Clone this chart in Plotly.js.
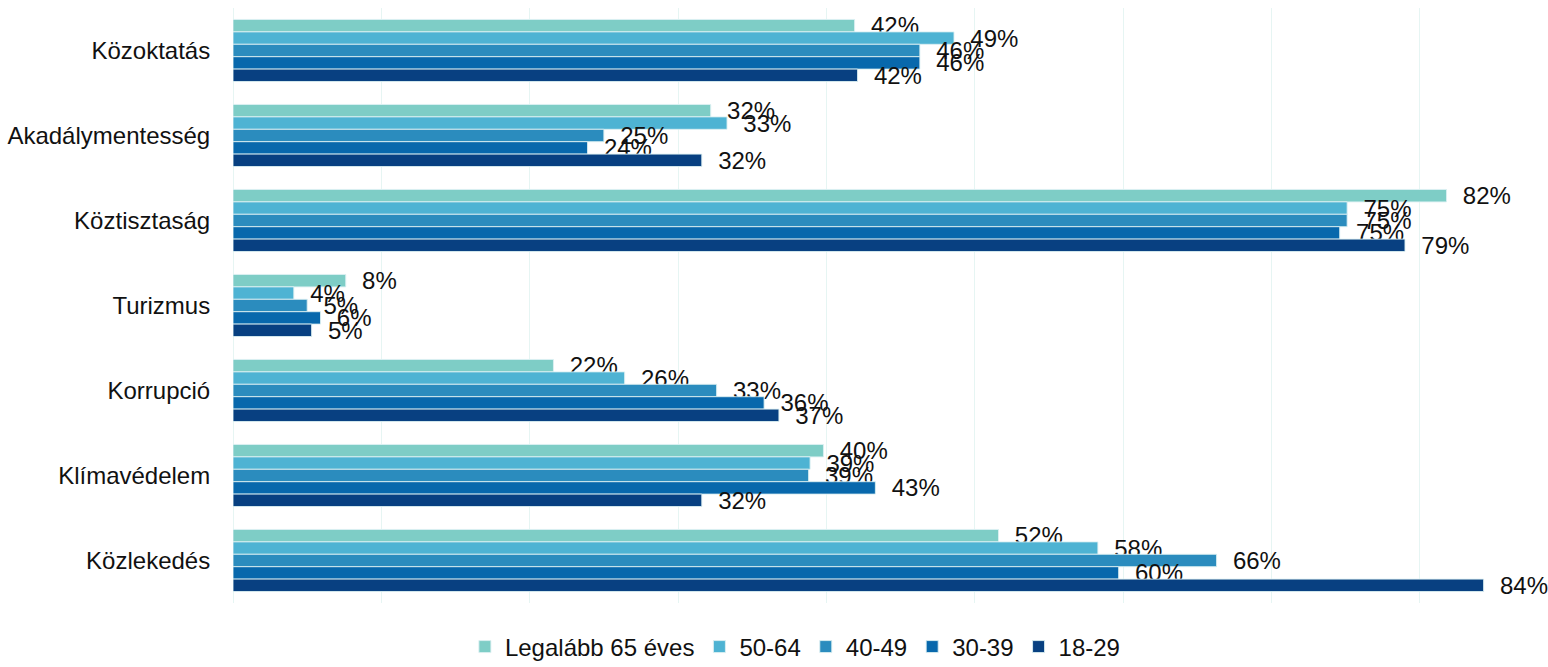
<!DOCTYPE html>
<html>
<head>
<meta charset="utf-8">
<script src="https://cdn.plot.ly/plotly-3.0.1.min.js"></script>
<style>html,body{margin:0;padding:0;background:#fff;}#chart{width:1548px;height:667px;}</style>
</head>
<body>
<div id="chart"></div>
<script>
const categories = ["Közoktatás","Akadálymentesség","Köztisztaság","Turizmus","Korrupció","Klímavédelem","Közlekedés"];
const seriesNames = ["Legalább 65 éves","50-64","40-49","30-39","18-29"];
const age65plus = [41.9, 32.2, 81.8, 7.6, 21.6, 39.8, 51.6];
const age50_64  = [48.6, 33.3, 75.1, 4.1, 26.4, 38.9, 58.3];
const age40_49  = [46.3, 25.0, 75.1, 5.0, 32.6, 38.8, 66.3];
const age30_39  = [46.3, 23.9, 74.6, 5.9, 35.8, 43.3, 59.7];
const age18_29  = [42.1, 31.6, 79.0, 5.3, 36.8, 31.6, 84.3];
const colors = ["#7ECDC6","#4EB3D3","#2B8CBE","#0868AC","#084081"];

const seriesValues = [age65plus, age50_64, age40_49, age30_39, age18_29];
const FONT = "Liberation Sans, Arial, sans-serif";

const traces = seriesValues.map((vals, i) => ({
  type: "bar",
  orientation: "h",
  name: seriesNames[i],
  y: categories,
  x: vals,
  marker: {color: colors[i], line: {color: "rgba(220,240,242,0.9)", width: 1}},
  texttemplate: "\u00a0\u00a0%{x:.0f}%",
  textposition: "outside",
  constraintext: "none",
  cliponaxis: false,
  textfont: {family: FONT, size: 24, color: "#111"},
  hoverinfo: "x+name"
}));

const layout = {
  width: 1548, height: 667,
  margin: {l: 233, r: 54, t: 8, b: 64, autoexpand: false},
  paper_bgcolor: "#fff", plot_bgcolor: "#fff",
  barmode: "group",
  bargap: 0.27,
  bargroupgap: 0,
  font: {family: FONT, size: 24, color: "#111"},
  xaxis: {
    range: [0, 85], dtick: 10, showticklabels: false,
    showgrid: true, gridcolor: "#E6F5F3", gridwidth: 1,
    zeroline: true, zerolinecolor: "#E6F5F3", zerolinewidth: 1,
    showline: false, fixedrange: true
  },
  yaxis: {
    autorange: "reversed", type: "category",
    ticks: "outside", ticklen: 17, tickcolor: "rgba(0,0,0,0)",
    tickfont: {family: FONT, size: 24, color: "#111"},
    showgrid: false, showline: false, zeroline: false
  },
  showlegend: true,
  legend: {
    orientation: "h", x: 0.446, xanchor: "center",
    yref: "container", y: 0.03, yanchor: "middle",
    font: {family: FONT, size: 24, color: "#111"},
    traceorder: "normal", itemclick: false, itemwidth: 30
  }
};

Plotly.newPlot("chart", traces, layout, {displayModeBar: false, staticPlot: true});
</script>
</body>
</html>
